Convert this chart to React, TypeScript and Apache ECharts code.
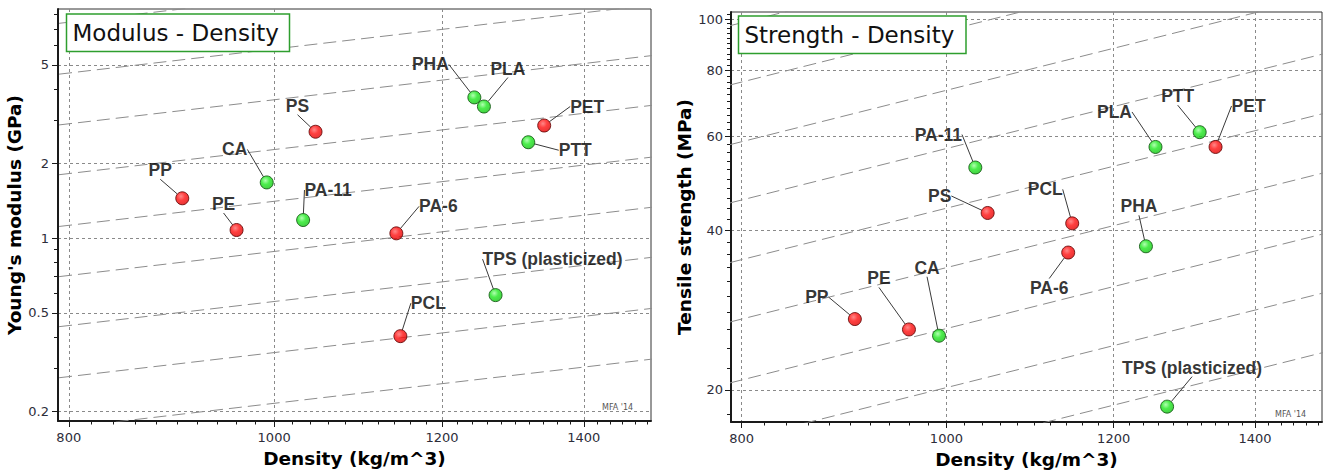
import React, { useEffect, useRef } from "react";
import * as echarts from "echarts";

// ---------- data ----------
const materials = ["PP", "PE", "CA", "PS", "PA-11", "PA-6", "PHA", "PLA", "PET", "PTT", "TPS (plasticized)", "PCL"];
const biobased = [false, false, true, false, true, false, true, true, false, true, true, false];
const density = [905, 960, 992, 1046, 1032, 1142, 1243, 1256, 1341, 1318, 1272, 1147]; // kg/m^3
const modulus = [1.45, 1.08, 1.68, 2.69, 1.185, 1.047, 3.7, 3.4, 2.85, 2.44, 0.59, 0.403]; // GPa
const strength = [27.2, 26.0, 25.3, 43.1, 52.5, 36.3, 37.3, 57.4, 57.4, 61.2, 18.6, 41.2]; // MPa

const densityRange = [790.7, 1506];
const modulusRange = [0.1833, 8.41];
const strengthRange = [17.4, 103.1];

const densityTicks = [800, 1000, 1200, 1400];
const densityMinorTicks = [820, 840, 860, 880, 900, 920, 940, 960, 980, 1020, 1040, 1060, 1080, 1100, 1120, 1140, 1160, 1180, 1220, 1240, 1260, 1280, 1300, 1320, 1340, 1360, 1380, 1420, 1440, 1460, 1480, 1500];
const modulusTicks = [0.2, 0.5, 1, 2, 5];
const modulusMinorTicks = [0.3, 0.4, 0.6, 0.7, 0.8, 0.9, 3, 4, 6, 7, 8];
const strengthTicks = [20, 40, 60, 80, 100];
const strengthMinorTicks = [18, 22, 24, 26, 28, 30, 32, 34, 36, 38, 42, 44, 46, 48, 50, 52, 54, 56, 58, 62, 64, 66, 68, 70, 72, 74, 76, 78, 82, 84, 86, 88, 90, 92, 94, 96, 98, 102];

// guide lines: value = C * density / 1000
const modulusGuides = [0.216, 0.346, 0.556, 0.885, 1.41, 2.28, 3.62, 5.8, 9.3];
const strengthGuides = [15.6, 20.2, 26.1, 34.0, 44.0, 57.0, 73.4, 95.1, 123];

// label offsets (px) from each marker
const modulusLabelOffsets = [[-22, -28], [-13, -26], [-32, -33], [-18, -26], [25, -30], [42, -27], [-44, -33], [24, -38], [43, -19], [47, 8], [57, -36], [28, -33]];
const strengthLabelOffsets = [[-38, -22], [-30, -51], [-12, -68], [-48, -17], [-37, -33], [-19, 35], [-7, -40], [-41, -35], [33, -41], [-22, -36], [25, -39], [-27, -34]];

const lg = (v: number) => Math.log10(v);
const fmt = (v: number) => String(parseFloat(Math.pow(10, v).toPrecision(3)));

const TICK_FONT = "DejaVu Sans";
const gridLine = { show: true, lineStyle: { color: "#8a8a8a", type: [3, 3] as any, width: 1 } };
const nameStyle = { fontFamily: "DejaVu Sans", fontWeight: "bold" as const, fontSize: 18.5, color: "#000" };

function majorAxis(gridIndex: number, range: number[], ticks: number[], position: string, name: string, nameGap: number, margin: number) {
  return {
    type: "value",
    gridIndex,
    position,
    min: lg(range[0]),
    max: lg(range[1]),
    name,
    nameLocation: "middle",
    nameGap,
    nameTextStyle: nameStyle,
    axisLine: { show: true, onZero: false, lineStyle: { color: "#1a1a1a", width: 2 } },
    axisTick: { show: true, customValues: ticks.map(lg), length: 6, lineStyle: { color: "#1a1a1a", width: 1 } },
    axisLabel: { show: true, customValues: ticks.map(lg), formatter: fmt, margin, color: "#2d2d3a", fontFamily: TICK_FONT, fontSize: 13 },
    splitLine: gridLine,
  };
}
function minorAxis(gridIndex: number, range: number[], ticks: number[], position: string, len: number) {
  return {
    type: "value",
    gridIndex,
    position,
    min: lg(range[0]),
    max: lg(range[1]),
    axisLine: { show: false, onZero: false },
    axisTick: { show: true, customValues: ticks.map(lg), length: len, lineStyle: { color: "#1a1a1a", width: 1 } },
    axisLabel: { show: false },
    splitLine: { show: false },
  };
}

const redFill = { type: "radial", x: 0.4, y: 0.35, r: 0.7, colorStops: [{ offset: 0, color: "#ff6a6a" }, { offset: 0.45, color: "#ff1010" }, { offset: 1, color: "#dd0000" }] };
const greenFill = { type: "radial", x: 0.4, y: 0.35, r: 0.7, colorStops: [{ offset: 0, color: "#9dff9d" }, { offset: 0.45, color: "#1fe81f" }, { offset: 1, color: "#14c014" }] };

function guideSeries(consts: number[], xi: number, yi: number) {
  return consts.map((c) => ({
    type: "line",
    xAxisIndex: xi,
    yAxisIndex: yi,
    data: [
      [lg(700), lg((c * 700) / 1000)],
      [lg(1700), lg((c * 1700) / 1000)],
    ],
    symbol: "none",
    silent: true,
    clip: true,
    z: 1,
    lineStyle: { color: "#8c8c8c", width: 1, type: [13, 6] },
  }));
}

function pointSeries(values: number[], offsets: number[][], xi: number, yi: number) {
  return {
    type: "scatter",
    xAxisIndex: xi,
    yAxisIndex: yi,
    symbol: "circle",
    symbolSize: 13,
    z: 5,
    data: materials.map((m, i) => ({
      name: m,
      value: [lg(density[i]), lg(values[i])],
      itemStyle: {
        color: biobased[i] ? greenFill : redFill,
        borderColor: biobased[i] ? "#0b4d0b" : "#5a0000",
        borderWidth: 1,
      },
    })),
    label: {
      show: true,
      position: "inside",
      formatter: (p: any) => materials[p.dataIndex],
      fontFamily: "Liberation Sans",
      fontWeight: "bold",
      fontSize: 17.5,
      color: "#000",
      textBorderWidth: 0,
    },
    labelLayout: (p: any) => ({ dx: offsets[p.dataIndex][0], dy: offsets[p.dataIndex][1] }),
    labelLine: { show: true, lineStyle: { color: "#3a3a3a", width: 1 } },
  };
}

function titleBox(x: number, y: number, w: number, h: number, text: string) {
  return [
    { type: "rect", z: 50, shape: { x, y, width: w, height: h }, style: { fill: "#fff", stroke: "#2e9e2e", lineWidth: 1.5 } },
    { type: "text", z: 51, x: x + 6, y: y + h / 2 + 0.5, style: { text, font: '23px "DejaVu Sans"', fill: "#111", align: "left", verticalAlign: "middle" } },
  ];
}

export default function App() {
  const ref = useRef<HTMLDivElement>(null);
  useEffect(() => {
    const chart = echarts.init(ref.current!, undefined, { renderer: "svg" });
    const option: any = {
      animation: false,
      backgroundColor: "#fff",
      grid: [
        { left: 58, top: 9, width: 593, height: 412, show: true, borderColor: "#333", borderWidth: 1, containLabel: false },
        { left: 731, top: 12, width: 591, height: 412, show: true, borderColor: "#333", borderWidth: 1, containLabel: false },
      ],
      xAxis: [
        majorAxis(0, densityRange, densityTicks, "bottom", "Density (kg/m^3)", 28, 10),
        minorAxis(0, densityRange, densityMinorTicks, "bottom", 3.5),
        majorAxis(1, densityRange, densityTicks, "bottom", "Density (kg/m^3)", 28, 10),
        minorAxis(1, densityRange, densityMinorTicks, "bottom", 3.5),
      ],
      yAxis: [
        majorAxis(0, modulusRange, modulusTicks, "left", "Young's modulus (GPa)", 31, 9),
        minorAxis(0, modulusRange, modulusMinorTicks, "left", 4),
        majorAxis(1, strengthRange, strengthTicks, "left", "Tensile strength (MPa)", 34, 8),
        minorAxis(1, strengthRange, strengthMinorTicks, "left", 4),
      ],
      series: [
        ...guideSeries(modulusGuides, 0, 0),
        ...guideSeries(strengthGuides, 2, 2),
        pointSeries(modulus, modulusLabelOffsets, 0, 0),
        pointSeries(strength, strengthLabelOffsets, 2, 2),
      ],
      graphic: [
        ...titleBox(66.5, 14, 223, 37.5, "Modulus - Density"),
        ...titleBox(738.5, 16, 227.5, 37.5, "Strength - Density"),
        { type: "text", z: 51, x: 602, y: 407, style: { text: "MFA '14", font: '8px "DejaVu Sans"', fill: "#555", verticalAlign: "middle" } },
        { type: "text", z: 51, x: 1275, y: 414, style: { text: "MFA '14", font: '8px "DejaVu Sans"', fill: "#555", verticalAlign: "middle" } },
      ],
    };
    chart.setOption(option);
    return () => chart.dispose();
  }, []);
  return <div ref={ref} style={{ position: "fixed", left: 0, top: 0, width: 1323, height: 474 }} />;
}
